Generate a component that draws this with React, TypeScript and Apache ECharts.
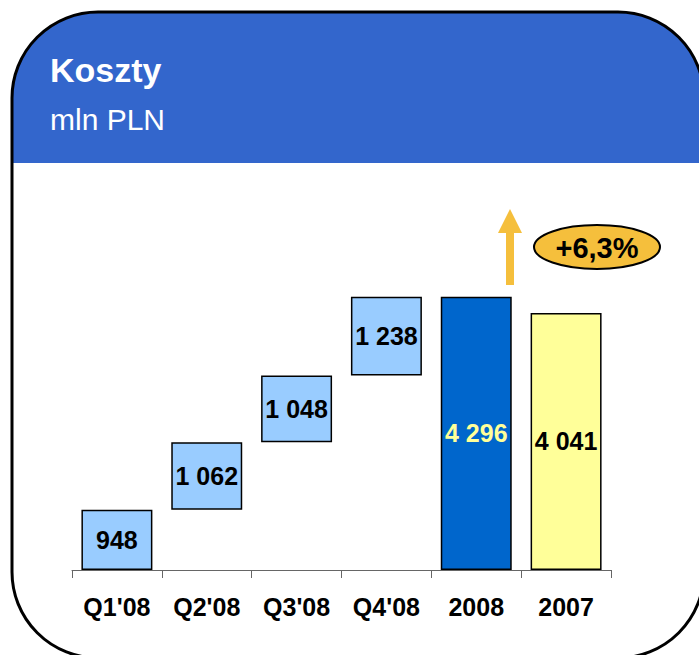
import React, { useEffect, useRef } from "react";
import * as echarts from "echarts";

const categories = ["Q1'08", "Q2'08", "Q3'08", "Q4'08", "2008", "2007"];
const values = [948, 1062, 1048, 1238, 4296, 4041];
const kinds = ["q", "q", "q", "q", "total", "prev"];
const headerTitle = "Koszty";
const headerUnit = "mln PLN";
const changeLabel = "+6,3%";

const FONT = 'Arial, "Liberation Sans", sans-serif';

const fmt = (v: number) => {
  const s = String(Math.round(v));
  return s.replace(/\B(?=(\d{3})+(?!\d))/g, " ");
};

export default function App() {
  const ref = useRef<HTMLDivElement>(null);
  useEffect(() => {
    if (!ref.current) return;
    const chart = echarts.init(ref.current, undefined, { renderer: "svg" });

    // waterfall bases: quarters stack on cumulative sum, totals start at 0
    const bases: number[] = [];
    let cum = 0;
    values.forEach((v, i) => {
      if (kinds[i] === "q") {
        bases.push(cum);
        cum += v;
      } else {
        bases.push(0);
      }
    });

    const fillFor = (k: string) =>
      k === "q" ? "#99CCFF" : k === "total" ? "#0066CC" : "#FFFF99";
    const labelColorFor = (k: string) => (k === "total" ? "#FFFF99" : "#000000");

    const arrowColor = "#F5BF3C";

    chart.setOption({
      animation: false,
      backgroundColor: "#ffffff",
      textStyle: { fontFamily: FONT },
      graphic: [
        {
          type: "rect",
          z: -10,
          shape: { x: 12, y: 12, width: 692, height: 646, r: 86 },
          style: { fill: "#ffffff", stroke: "none" },
        },
        {
          type: "rect",
          z: -9,
          shape: { x: 12, y: 12, width: 692, height: 151, r: [86, 86, 0, 0] },
          style: { fill: "#3366CC", stroke: "none" },
        },
        {
          type: "rect",
          z: 5,
          shape: { x: 12, y: 12, width: 692, height: 646, r: 86 },
          style: { fill: "none", stroke: "#000000", lineWidth: 3 },
        },
        {
          type: "text",
          z: 6,
          x: 50,
          y: 70,
          style: {
            text: headerTitle,
            fill: "#ffffff",
            font: `bold 34px ${FONT}`,
            verticalAlign: "middle",
            align: "left",
          },
        },
        {
          type: "text",
          z: 6,
          x: 50,
          y: 119,
          style: {
            text: headerUnit,
            fill: "#ffffff",
            font: `30px ${FONT}`,
            verticalAlign: "middle",
            align: "left",
          },
        },
        {
          type: "polygon",
          z: 6,
          shape: {
            points: [
              [506, 285],
              [514, 285],
              [514, 233],
              [522, 233],
              [510, 209],
              [498, 233],
              [506, 233],
            ],
          },
          style: { fill: arrowColor, stroke: "none" },
        },
        {
          type: "ellipse",
          z: 6,
          shape: { cx: 597, cy: 247, rx: 63, ry: 22 },
          style: { fill: arrowColor, stroke: "#000000", lineWidth: 2 },
        },
        {
          type: "text",
          z: 7,
          x: 597,
          y: 248,
          style: {
            text: changeLabel,
            fill: "#000000",
            font: `bold 29px ${FONT}`,
            align: "center",
            verticalAlign: "middle",
          },
        },
      ],
      grid: { left: 72, right: 88, top: 252, bottom: 85 },
      xAxis: {
        type: "category",
        data: categories,
        axisLine: { show: true, lineStyle: { color: "#666666", width: 1 } },
        axisTick: { show: true, length: 8, lineStyle: { color: "#666666" } },
        axisLabel: {
          color: "#000000",
          fontWeight: "bold",
          fontSize: 25,
          fontFamily: FONT,
          margin: 24,
        },
      },
      yAxis: {
        type: "value",
        min: 0,
        max: 5000,
        show: false,
        splitLine: { show: false },
      },
      series: [
        {
          type: "bar",
          stack: "w",
          silent: true,
          data: bases,
          itemStyle: { color: "transparent", borderWidth: 0 },
          barCategoryGap: "21%",
        },
        {
          type: "bar",
          stack: "w",
          barCategoryGap: "21%",
          data: values.map((v, i) => ({
            value: v,
            itemStyle: {
              color: fillFor(kinds[i]),
              borderColor: "#000000",
              borderWidth: 1.5,
            },
            label: { color: labelColorFor(kinds[i]) },
          })),
          label: {
            show: true,
            position: "inside",
            fontWeight: "bold",
            fontSize: 25,
            fontFamily: FONT,
            formatter: (p: any) => fmt(p.value),
          },
        },
      ],
    });
    return () => chart.dispose();
  }, []);

  return (
    <div
      ref={ref}
      style={{ position: "absolute", left: 0, top: 0, width: 699, height: 655 }}
    />
  );
}
